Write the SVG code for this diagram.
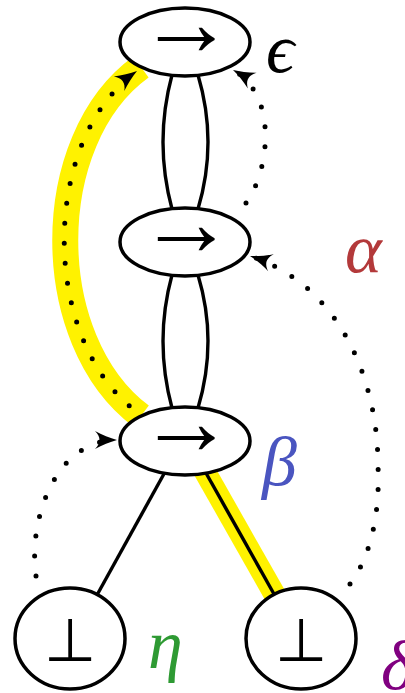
<svg xmlns="http://www.w3.org/2000/svg" width="405" height="693" viewBox="0 0 405 693">
<defs>
<style>
.node{fill:#fff;stroke:#000;stroke-width:3.5}
.line{fill:none;stroke:#000;stroke-width:3.4}
.hl{fill:none;stroke:#fff200;stroke-linecap:butt}
.dot{fill:none;stroke:#000;stroke-width:5;stroke-linecap:round;stroke-dasharray:0 20;marker-end:url(#ah)}
.arr{font-family:"Liberation Serif","DejaVu Serif",serif;fill:#000;text-anchor:middle;font-size:96px}
.sym{font-family:"DejaVu Sans",sans-serif;font-weight:200;fill:#000;text-anchor:middle;font-size:60px}
.lbl{font-family:"Liberation Serif","DejaVu Serif",serif;font-style:italic;font-size:70px}
</style>
<marker id="ah" markerUnits="userSpaceOnUse" markerWidth="30" markerHeight="24" viewBox="-26 -12 28 24" refX="0" refY="0" orient="auto" overflow="visible">
<path d="M0,0 C-7,-2 -15,-5 -22,-9 C-16,-3 -16,3 -22,9 C-15,5 -7,2 0,0 Z" fill="#000"/>
</marker>
</defs>
<rect width="405" height="693" fill="#fff"/>
<g id="connectors">
<path class="hl" stroke-width="26" d="M141,416 C40,340 40,140 141,67"/>
<path class="hl" stroke-width="22" d="M204,470 L276,597"/>
<path class="line" d="M172,75 Q154,142 172,209"/>
<path class="line" d="M198,75 Q218,142 198,209"/>
<path class="line" d="M172,275 Q154,341 172,408"/>
<path class="line" d="M198,275 Q218,341 198,408"/>
<path class="line" d="M165,472 L97,595"/>
<path class="line" d="M206,473 L274,594"/>
<path class="dot" style="stroke-dashoffset:10" d="M137,412 C40,340 40,140 137,71"/>
<path class="dot" d="M246,203 C270,170 278,95 233,70"/>
<path class="dot" d="M350,584 C372,555 380,510 378,466 C378,380 340,285 250,256"/>
<path class="dot" d="M36,576 C28,520 55,440 117,440"/>
</g>
<g id="n1"><ellipse class="node" cx="185" cy="42" rx="65" ry="34"/><text class="arr" x="186" y="55">→</text></g>
<g id="n2"><ellipse class="node" cx="185" cy="242" rx="65" ry="34"/><text class="arr" x="186" y="255">→</text></g>
<g id="n3"><ellipse class="node" cx="185" cy="441" rx="65" ry="34"/><text class="arr" x="186" y="454">→</text></g>
<g id="n4"><ellipse class="node" cx="70" cy="638.5" rx="55" ry="50.5"/><text class="sym" x="70" y="661">⊥</text></g>
<g id="n5"><ellipse class="node" cx="301" cy="638.5" rx="55" ry="50.5"/><text class="sym" x="301" y="661">⊥</text></g>
<g id="labels">
<text class="lbl" x="266" y="72" fill="#000" font-size="60">ϵ</text>
<text class="lbl" x="345" y="272" fill="#b3393a">α</text>
<text class="lbl" x="262" y="485" fill="#4a55c0">β</text>
<text class="lbl" x="148" y="668" fill="#2e9a33">η</text>
<text class="lbl" x="381" y="689" fill="#800080">δ</text>
</g>
</svg>
